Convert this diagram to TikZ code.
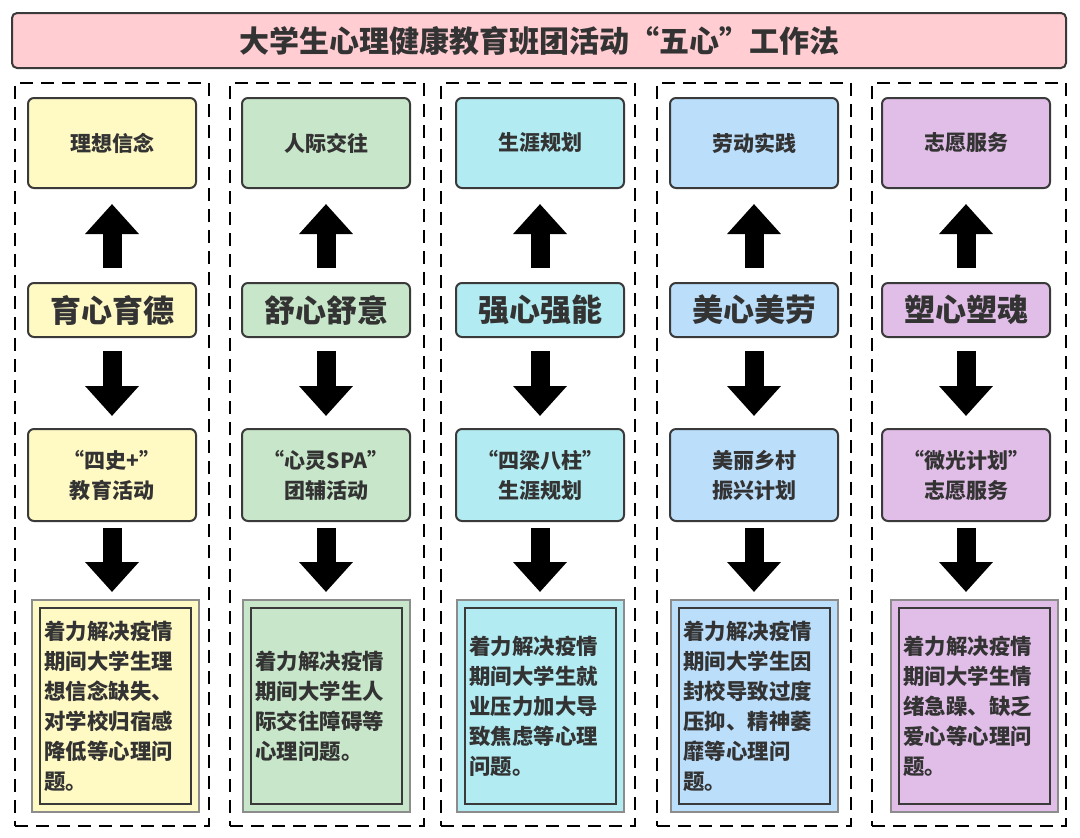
\documentclass[tikz,border=0pt]{standalone}
\usepackage{fontspec}
\setmainfont{Noto Sans CJK SC}
\usetikzlibrary{arrows.meta,positioning}
\definecolor{titlepink}{HTML}{FFCDD2}
\definecolor{cyellow}{HTML}{FFF9C4}
\definecolor{cgreen}{HTML}{C8E6C9}
\definecolor{ccyan}{HTML}{B2EBF2}
\definecolor{cblue}{HTML}{BBDEFB}
\definecolor{cpurple}{HTML}{E1BEE7}
\definecolor{frame}{HTML}{3A3A3A}
\definecolor{outerframe}{HTML}{8C8C8C}
\definecolor{txt}{HTML}{333333}
\tikzstyle{titlebox}=[draw=frame, line width=1pt, fill=titlepink, rounded corners=2.5pt,
  minimum width=527pt, minimum height=27.5pt, text=txt,
  font=\fontsize{15}{18}\selectfont\bfseries]
\tikzstyle{column}=[draw, line width=1.4pt, dash pattern=on 6.5pt off 4pt,
  minimum width=97pt, minimum height=371.5pt]
\tikzstyle{goal}=[draw=frame, line width=1pt, rounded corners=3pt, minimum width=84pt,
  minimum height=45pt, text=txt, font=\fontsize{10.5}{15}\selectfont\bfseries]
\tikzstyle{heart}=[goal, minimum height=27pt, font=\fontsize{15.5}{18}\selectfont\bfseries]
\tikzstyle{act}=[goal, minimum height=46pt, align=center]
\tikzstyle{prob}=[draw=outerframe, line width=1pt, minimum height=106pt, text width=70.5pt,
  inner xsep=6.5pt, align=left, text=txt, font=\fontsize{10.7}{15}\selectfont\bfseries,
  path picture={\draw[frame, line width=1pt]
    ([shift={(4pt,-4pt)}]path picture bounding box.north west) rectangle
    ([shift={(-4pt,4pt)}]path picture bounding box.south east);}]
\tikzstyle{bigarrow}=[-{Triangle[width=26pt,length=15pt]}, line width=9.5pt, black]

\begin{document}
\begin{tikzpicture}[x=0.5pt, y=-0.5pt, on grid]
  \useasboundingbox (0,0) rectangle (1080,837);
  \node[titlebox] (title) at (539,40.5) {大学生心理健康教育班团活动“五心”工作法};

  \node[column] (c1) at (112,454.5) {};
  \node[column] (c2) at (327,454.5) {};
  \node[column] (c3) at (538,454.5) {};
  \node[column] (c4) at (754,454.5) {};
  \node[column] (c5) at (969,454.5) {};

  % yellow column
  \node[goal, fill=cyellow]                        (goal1)  at (112,143) {理想信念};
  \node[heart, fill=cyellow, below=83.5pt of goal1] (heart1) {育心育德};
  \node[act, fill=cyellow, below=82.5pt of heart1]  (act1)   {“四史+”\\教育活动};
  \node[prob, fill=cyellow, below=115.5pt of act1, xshift=1.5pt] (prob1)
    {着力解决疫情\\期间大学生理\\想信念缺失、\\对学校归宿感\\降低等心理问\\题。};

  % green column
  \node[goal, fill=cgreen]                         (goal2)  at (326,143) {人际交往};
  \node[heart, fill=cgreen, below=83.5pt of goal2]  (heart2) {舒心舒意};
  \node[act, fill=cgreen, below=82.5pt of heart2]   (act2)   {“心灵SPA"\\团辅活动};
  \node[prob, fill=cgreen, below=115.5pt of act2]   (prob2)
    {着力解决疫情\\期间大学生人\\际交往障碍等\\心理问题。};

  % cyan column
  \node[goal, fill=ccyan]                          (goal3)  at (540,143) {生涯规划};
  \node[heart, fill=ccyan, below=83.5pt of goal3]   (heart3) {强心强能};
  \node[act, fill=ccyan, below=82.5pt of heart3]    (act3)   {“四梁八柱”\\生涯规划};
  \node[prob, fill=ccyan, below=115.5pt of act3]    (prob3)
    {着力解决疫情\\期间大学生就\\业压力加大导\\致焦虑等心理\\问题。};

  % blue column
  \node[goal, fill=cblue]                          (goal4)  at (754,143) {劳动实践};
  \node[heart, fill=cblue, below=83.5pt of goal4]   (heart4) {美心美劳};
  \node[act, fill=cblue, below=82.5pt of heart4]    (act4)   {美丽乡村\\振兴计划};
  \node[prob, fill=cblue, below=115.5pt of act4]    (prob4)
    {着力解决疫情\\期间大学生因\\封校导致过度\\压抑、精神萎\\靡等心理问\\题。};

  % purple column
  \node[goal, fill=cpurple]                        (goal5)  at (966,143) {志愿服务};
  \node[heart, fill=cpurple, below=83.5pt of goal5] (heart5) {塑心塑魂};
  \node[act, fill=cpurple, below=82.5pt of heart5]  (act5)   {“微光计划”\\志愿服务};
  \node[prob, fill=cpurple, below=115.5pt of act5, xshift=4pt] (prob5)
    {着力解决疫情\\期间大学生情\\绪急躁、缺乏\\爱心等心理问\\题。};

  \draw[bigarrow, shorten <=7pt, shorten >=7.5pt] (heart1) -- (goal1);
  \draw[bigarrow, shorten <=7pt, shorten >=7.5pt] (heart2) -- (goal2);
  \draw[bigarrow, shorten <=7pt, shorten >=7.5pt] (heart3) -- (goal3);
  \draw[bigarrow, shorten <=7pt, shorten >=7.5pt] (heart4) -- (goal4);
  \draw[bigarrow, shorten <=7pt, shorten >=7.5pt] (heart5) -- (goal5);

  \draw[bigarrow, shorten <=6.5pt, shorten >=6pt] (heart1) -- (act1);
  \draw[bigarrow, shorten <=6.5pt, shorten >=6pt] (heart2) -- (act2);
  \draw[bigarrow, shorten <=6.5pt, shorten >=6pt] (heart3) -- (act3);
  \draw[bigarrow, shorten <=6.5pt, shorten >=6pt] (heart4) -- (act4);
  \draw[bigarrow, shorten <=6.5pt, shorten >=6pt] (heart5) -- (act5);

  \draw[bigarrow, shorten <=3pt, shorten >=3.5pt] (act1) -- (act1 |- prob1.north);
  \draw[bigarrow, shorten <=3pt, shorten >=3.5pt] (act2) -- (act2 |- prob2.north);
  \draw[bigarrow, shorten <=3pt, shorten >=3.5pt] (act3) -- (act3 |- prob3.north);
  \draw[bigarrow, shorten <=3pt, shorten >=3.5pt] (act4) -- (act4 |- prob4.north);
  \draw[bigarrow, shorten <=3pt, shorten >=3.5pt] (act5) -- (act5 |- prob5.north);
\end{tikzpicture}
\end{document}
